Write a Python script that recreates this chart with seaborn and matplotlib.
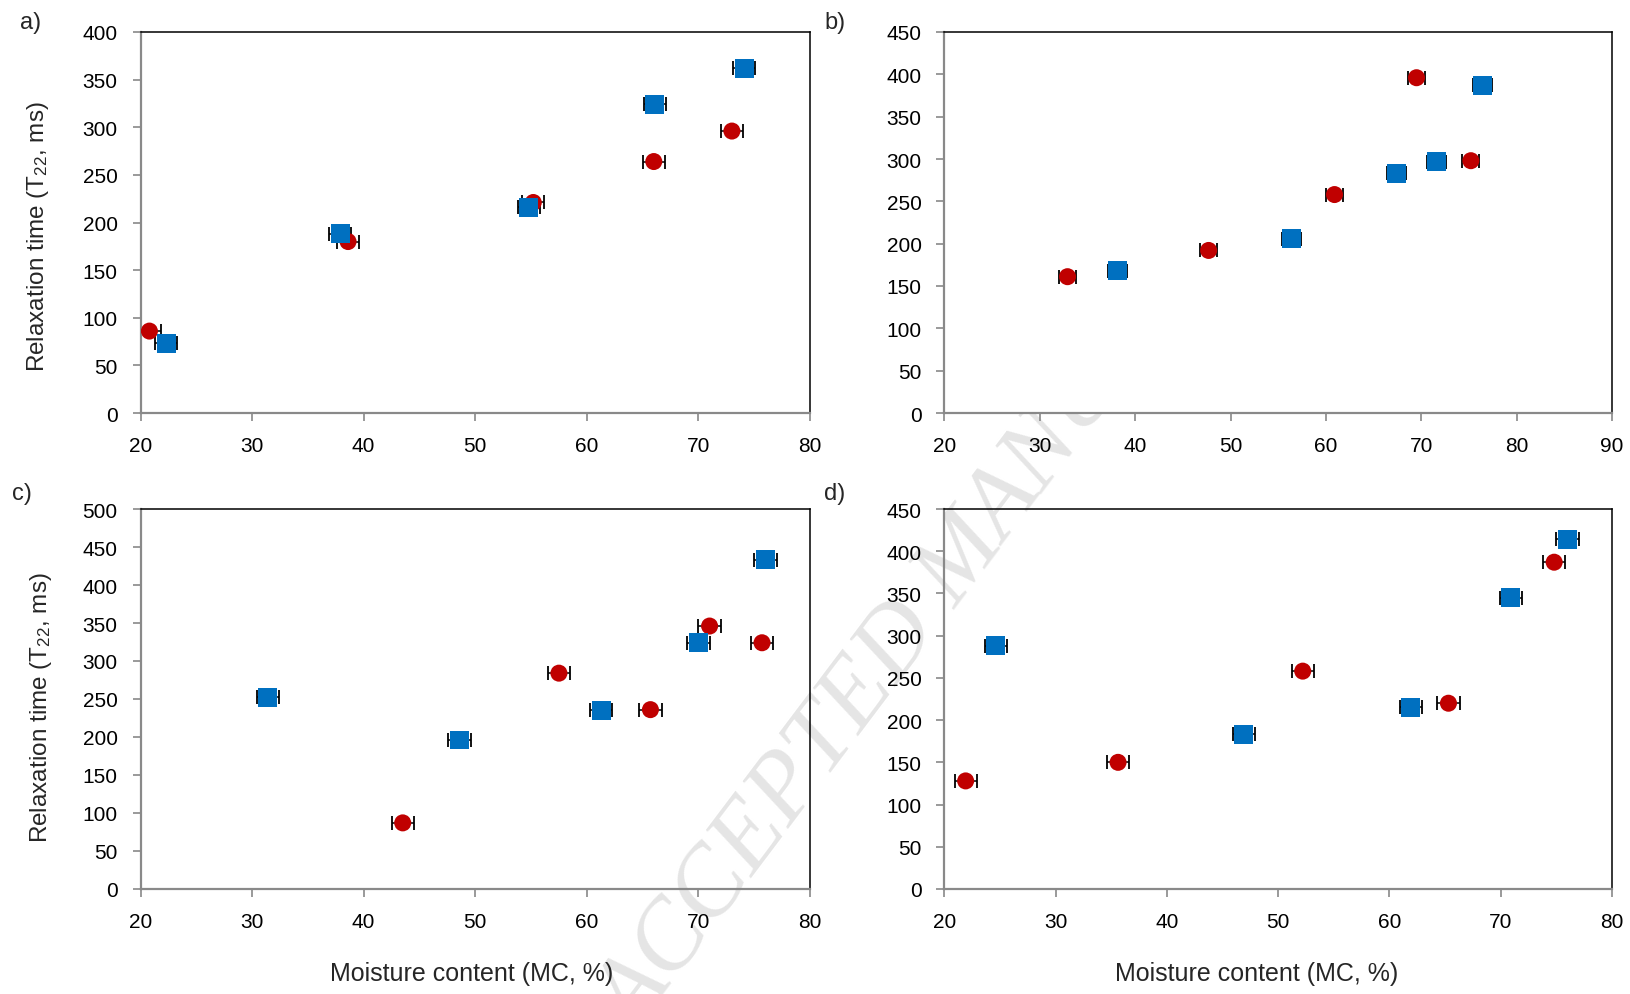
import numpy as np
import pandas as pd
import matplotlib
matplotlib.use("Agg")
import matplotlib.pyplot as plt
import seaborn as sns

# ---------------- data ----------------
# panel a
a_red_mc = [20.8, 38.6, 55.2, 66.0, 73.0]
a_red_t22 = [86, 180, 221, 264, 296]
a_red_err = [1.0, 1.0, 1.0, 1.0, 1.0]
a_blue_mc = [22.3, 37.9, 54.8, 66.1, 74.1]
a_blue_t22 = [73, 188, 216, 324, 362]
a_blue_err = [1.0, 1.0, 1.0, 1.0, 1.0]
# panel b
b_red_mc = [32.9, 47.7, 60.9, 69.5, 75.2]
b_red_t22 = [161, 192, 258, 396, 298]
b_red_err = [0.9, 0.9, 0.9, 0.9, 0.9]
b_blue_mc = [38.1, 56.4, 67.4, 71.6, 76.4]
b_blue_t22 = [168, 206, 283, 297, 387]
b_blue_err = [1.0, 1.0, 1.0, 1.0, 1.0]
# panel c
c_red_mc = [43.5, 57.5, 65.7, 71.0, 75.7]
c_red_t22 = [87, 284, 236, 346, 324]
c_red_err = [1.0, 1.0, 1.0, 1.0, 1.0]
c_blue_mc = [31.4, 48.6, 61.3, 70.0, 76.0]
c_blue_t22 = [252, 196, 235, 324, 433]
c_blue_err = [1.0, 1.0, 1.0, 1.0, 1.0]
# panel d
d_red_mc = [21.9, 35.6, 52.2, 65.3, 74.8]
d_red_t22 = [128, 150, 258, 220, 387]
d_red_err = [1.0, 1.0, 1.0, 1.0, 1.0]
d_blue_mc = [24.6, 46.9, 61.9, 70.9, 76.0]
d_blue_t22 = [288, 183, 215, 345, 414]
d_blue_err = [1.0, 1.0, 1.0, 1.0, 1.0]

panel_labels = ["a)", "b)", "c)", "d)"]
x_limits = [(20, 80), (20, 90), (20, 80), (20, 80)]
y_limits = [(0, 400), (0, 450), (0, 500), (0, 450)]
y_label = "Relaxation time (T$_{22}$, ms)"
x_label = "Moisture content (MC, %)"
watermark = "ACCEPTED MANUSCRIPT"

RED = "#C00000"
BLUE = "#0070C0"
GREY = "#898989"

panels = [
    (a_red_mc, a_red_t22, a_red_err, a_blue_mc, a_blue_t22, a_blue_err),
    (b_red_mc, b_red_t22, b_red_err, b_blue_mc, b_blue_t22, b_blue_err),
    (c_red_mc, c_red_t22, c_red_err, c_blue_mc, c_blue_t22, c_blue_err),
    (d_red_mc, d_red_t22, d_red_err, d_blue_mc, d_blue_t22, d_blue_err),
]

sns.set_style("white")
plt.rcParams["font.family"] = ["Liberation Sans", "DejaVu Sans"]
plt.rcParams["mathtext.default"] = "regular"

W, H = 1631, 995
fig = plt.figure(figsize=(W / 100, H / 100), dpi=100)
fig.patch.set_facecolor("white")

# axes boxes in pixels: left, right, top, bottom
boxes = [
    (140.5, 810, 33, 414),
    (944.5, 1612, 33, 414),
    (140.5, 810, 510, 890),
    (944.5, 1612, 510, 890),
]

axes = []
for i, (l, r, t, b) in enumerate(boxes):
    ax = fig.add_axes([l / W, 1 - b / H, (r - l) / W, (b - t) / H])
    ax.set_zorder(1)
    ax.set_facecolor("white" if i == 1 else "none")
    axes.append(ax)

for i, ax in enumerate(axes):
    rmc, rt, rerr, bmc, bt, berr = panels[i]
    dfr = pd.DataFrame({"mc": rmc, "t22": rt})
    dfb = pd.DataFrame({"mc": bmc, "t22": bt})
    ax.errorbar(rmc, rt, xerr=rerr, fmt="none", ecolor="black",
                elinewidth=1.1, capsize=5, capthick=1.3, zorder=2)
    ax.errorbar(bmc, bt, xerr=berr, fmt="none", ecolor="black",
                elinewidth=1.1, capsize=5, capthick=1.3, zorder=2)
    sns.scatterplot(data=dfr, x="mc", y="t22", ax=ax, color=RED, marker="o",
                    s=150, linewidth=0, edgecolor="none", zorder=3, legend=False)
    sns.scatterplot(data=dfb, x="mc", y="t22", ax=ax, color=BLUE, marker="s",
                    s=185, linewidth=0, edgecolor="none", zorder=3, legend=False)

    x0, x1 = x_limits[i]
    y0, y1 = y_limits[i]
    ax.set_xlim(x0, x1)
    ax.set_ylim(y0, y1)
    ax.set_xticks(np.arange(x0, x1 + 1, 10))
    ax.set_yticks(np.arange(y0, y1 + 1, 50))
    ax.tick_params(axis="both", direction="out", length=6, width=1.2,
                   color=GREY, labelsize=15, labelcolor="black",
                   left=True, bottom=True, top=False, right=False)
    ax.tick_params(axis="y", pad=10.5)
    ax.tick_params(axis="x", pad=10.5)
    for side in ["left", "bottom"]:
        ax.spines[side].set_color(GREY)
        ax.spines[side].set_linewidth(1.6)
    for side in ["top", "right"]:
        ax.spines[side].set_color("black")
        ax.spines[side].set_linewidth(1.1)
    for s in ax.spines.values():
        s.set_visible(True)

    ax.set_xlabel("")
    ax.set_ylabel("")

# y labels on left panels
axes[0].set_ylabel(y_label, fontsize=17.5)
axes[0].yaxis.set_label_coords(-0.133, 0.465)
axes[2].set_ylabel(y_label, fontsize=17.5)
axes[2].yaxis.set_label_coords(-0.129, 0.479)
# x labels on bottom panels
axes[2].set_xlabel(x_label, fontsize=18)
axes[2].xaxis.set_label_coords(0.495, -0.19)
axes[3].set_xlabel(x_label, fontsize=18)
axes[3].xaxis.set_label_coords(0.468, -0.19)

# panel letters
label_pos = [(20, 23), (824, 23), (12, 494), (824, 494)]
for lab, (px, py) in zip(panel_labels, label_pos):
    fig.text(px / W, 1 - py / H, lab, ha="left", va="center", fontsize=17)

# faint watermark behind the panels (hidden by panel b, as in the reference)
fig.text(962 / W, 1 - 566 / H, watermark, rotation=53, rotation_mode="anchor",
         ha="center", va="center", fontsize=72, style="italic",
         family=["Liberation Serif", "DejaVu Serif"],
         color="#e5e5e5", zorder=0)

fig.savefig("out.png", dpi=100, facecolor="white")
